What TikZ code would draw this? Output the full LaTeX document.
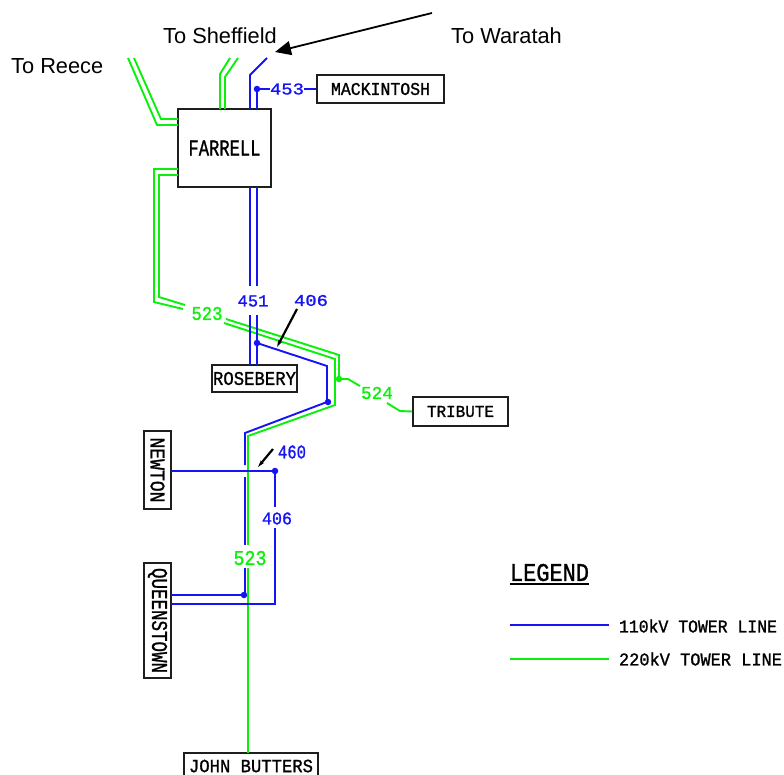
\documentclass[tikz,border=0pt]{standalone}
\usepackage{fontspec}
\setmainfont{Liberation Sans}
\newfontfamily\cadfont{Liberation Mono}[FakeBold=1.2]
\usetikzlibrary{arrows.meta}
\definecolor{linkblue}{RGB}{20,20,245}
\definecolor{linkgreen}{RGB}{10,240,10}
\definecolor{boxgrey}{RGB}{30,30,30}
\newcommand{\cad}[3]{\resizebox{#1pt}{#2pt}{\cadfont #3}}
\tikzset{
  blueline/.style={draw=linkblue,line width=1.9pt,line join=miter},
  greenline/.style={draw=linkgreen,line width=1.9pt,line join=miter},
  blackline/.style={draw=black,line width=2.2pt},
  stationbox/.style={draw=boxgrey,line width=1.8pt,inner sep=0pt,anchor=center,text=black},
  cadlabel/.style={inner sep=0pt,anchor=center,text=black},
  bluelabel/.style={cadlabel,text=linkblue},
  greenlabel/.style={cadlabel,text=linkgreen},
  placename/.style={inner sep=0pt,anchor=west,font=\fontsize{21.8}{24}\selectfont,text=black},
  junction/.style={circle,fill=#1,inner sep=0pt,minimum size=6.5pt},
}
\begin{document}
\begin{tikzpicture}[x=1pt,y=-1pt]
\useasboundingbox (0,0) rectangle (784,774);

% place names
\node[placename] (reece) at (11,66) {To Reece};
\node[placename] (sheffield) at (163,36) {To Sheffield};
\node[placename] (waratah) at (451,36) {To Waratah};
\coordinate (arrowtail) at (432,13);
\coordinate (arrowtip) at (275,52);
\draw[line width=1.8pt,-{Triangle[length=16pt,width=14pt]}] (arrowtail) -- (arrowtip);

% stations
\node[stationbox,minimum width=93pt,minimum height=78pt] (farrell) at (224.5,148) {\cad{72}{15}{FARRELL}};
\node[stationbox,minimum width=127pt,minimum height=28pt] (mackintosh) at (380.5,89) {\cad{99}{12}{MACKINTOSH}};
\node[stationbox,minimum width=85pt,minimum height=27pt] (rosebery) at (254.5,378.5) {\cad{83}{13}{ROSEBERY}};
\node[stationbox,minimum width=95pt,minimum height=29pt] (tribute) at (460.5,411.5) {\cad{67}{11}{TRIBUTE}};
\node[stationbox,minimum width=27pt,minimum height=78pt] (newton) at (157.5,470) {\rotatebox{-90}{\cad{65}{14}{NEWTON}}};
\node[stationbox,minimum width=27pt,minimum height=115pt] (queenstown) at (157.5,620.5) {\rotatebox{-90}{\cad{105}{15}{QUEENSTOWN}}};
\draw[draw=boxgrey,line width=1.8pt] (184,753) rectangle (318,782);
\node[cadlabel] (butters) at (251,766) {\cad{124}{12.5}{JOHN BUTTERS}};

% line number labels
\node[bluelabel] (l453) at (287,89) {\cad{34}{11}{453}};
\node[bluelabel] (l451) at (253,301) {\cad{31}{11}{451}};
\node[bluelabel] (l406a) at (311,300.5) {\cad{34}{11}{406}};
\node[bluelabel] (l460) at (292,452) {\cad{28}{13}{460}};
\node[bluelabel] (l406b) at (277,518.5) {\cad{30}{12}{406}};
\node[greenlabel] (l523a) at (207,313.5) {\cad{31}{13}{523}};
\node[greenlabel] (l524) at (377,393) {\cad{32}{12}{524}};
\node[greenlabel] (l523b) at (250,558) {\cad{33}{14}{523}};

% junctions
\node[junction=linkblue] (j453) at (257,89) {};
\node[junction=linkblue] (jrose) at (257,343) {};
\node[junction=linkblue] (jbend) at (328,402) {};
\node[junction=linkblue] (jnewt) at (275,471) {};
\node[junction=linkblue] (jqueen) at (244,595) {};
\node[junction=linkgreen] (j524) at (339,379) {};

% 220 kV lines
\draw[greenline] (128,58) -- (157,125) -- (178,125);
\draw[greenline] (134,58) -- (161,119) -- (178,119);
\draw[greenline] (230,58) -- (220,74) -- (220,109);
\draw[greenline] (238,58) -- (225,77) -- (225,109);
\draw[greenline] (178,175) -- (159,175) -- (159,297) -- (185,305);
\draw[greenline] (178,169) -- (154,169) -- (154,302) -- (183,309);
\draw[greenline] (226,319) -- (339,355) -- (j524.center);
\draw[greenline] (224,323) -- (335,359) -- (335,405) -- (248,436) -- (248,545);
\draw[greenline] (248,568) -- (248,753);
\draw[greenline] (j524.center) -- (348,379) -- (360,386);
\draw[greenline] (387,403) -- (400,411) -- (tribute.west);

% 110 kV lines
\draw[blueline] (267,58) -- (250,75) -- (250,109);
\draw[blueline] (j453.center) -- (257,109);
\draw[blueline] (j453.center) -- (270,89);
\draw[blueline] (304,89) -- (mackintosh.west);
\draw[blueline] (250,187) -- (250,286);
\draw[blueline] (257,187) -- (257,286);
\draw[blueline] (250,315) -- (250,365);
\draw[blueline] (257,315) -- (257,365);
\draw[blueline] (jrose.center) -- (327,366) -- (327,402) -- (245,433) -- (245,465);
\draw[blueline] (245,477) -- (245,545);
\draw[blueline] (245,568) -- (245,595);
\draw[blueline] (jqueen.center) -- (171,595);
\draw[blueline] (171,471) -- (jnewt.center);
\draw[blueline] (jnewt.center) -- (275,507);
\draw[blueline] (275,528) -- (275,604) -- (171,604);

% pointers to lines
\coordinate (p406a) at (297,309);
\coordinate (p406b) at (277,347);
\coordinate (p460a) at (273,449);
\coordinate (p460b) at (258,467);
\draw[blackline,-{Stealth[length=7pt,width=4pt]}] (p406a) -- (p406b);
\draw[blackline,-{Stealth[length=7pt,width=4pt]}] (p460a) -- (p460b);

% legend
\node[cadlabel] (legend) at (549.5,572.5) {\cad{79}{17}{LEGEND}};
\coordinate (u1) at (510,584);
\coordinate (u2) at (589,584);
\draw[line width=1.5pt,draw=black] (u1) -- (u2);
\coordinate (k1a) at (510,625);
\coordinate (k1b) at (609,625);
\coordinate (k2a) at (510,659);
\coordinate (k2b) at (609,659);
\draw[blueline] (k1a) -- (k1b);
\draw[greenline] (k2a) -- (k2b);
\node[cadlabel] (key110) at (698,626) {\cad{158}{13}{110kV TOWER LINE}};
\node[cadlabel] (key220) at (700.5,659) {\cad{163}{13}{220kV TOWER LINE}};
\end{tikzpicture}
\end{document}
